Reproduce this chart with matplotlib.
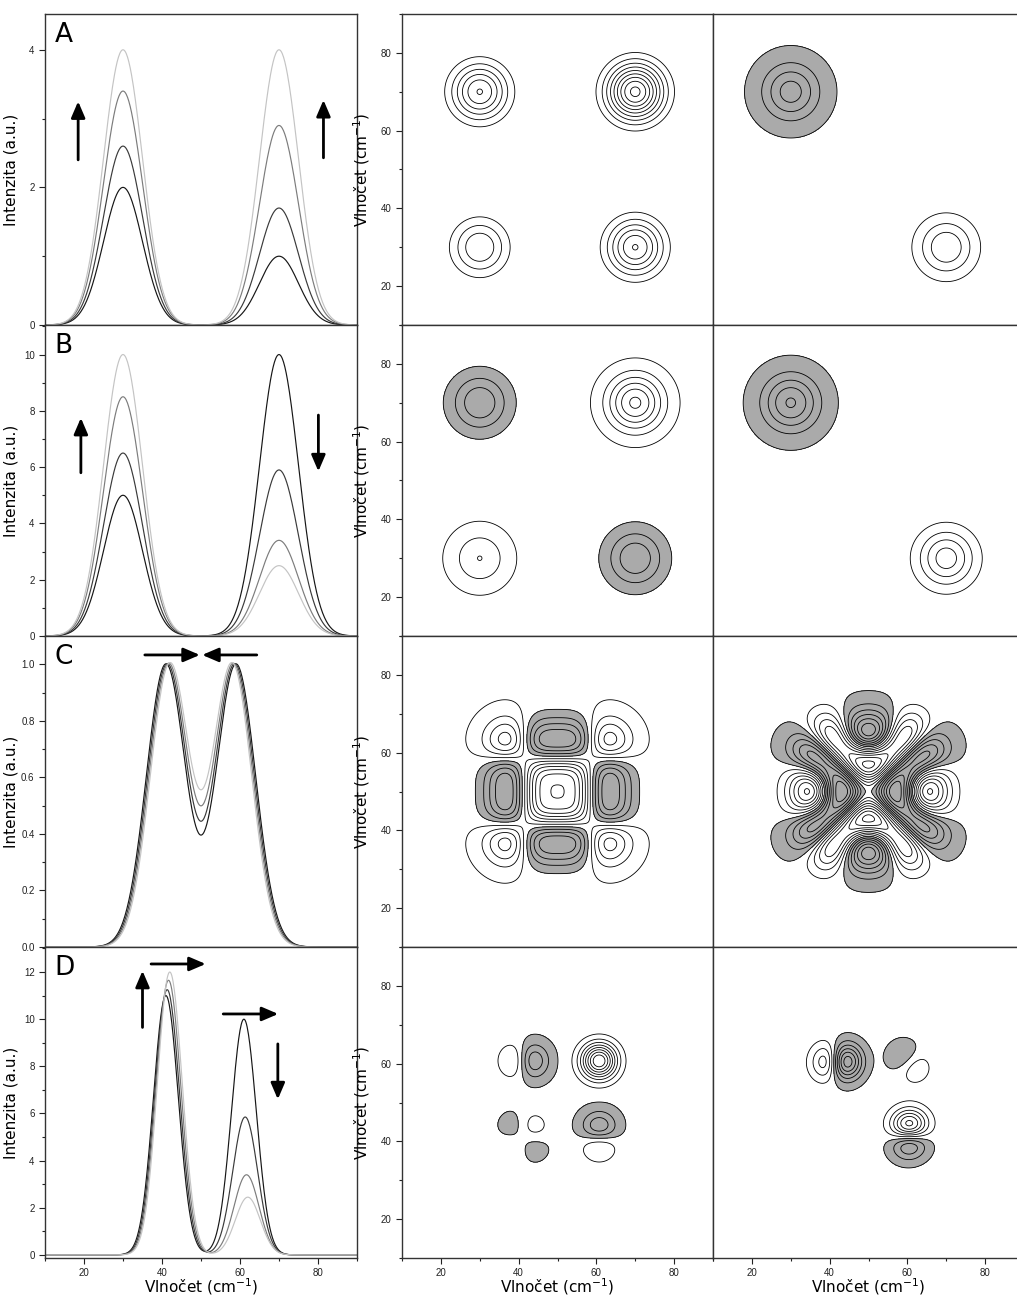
import numpy as np
import matplotlib
matplotlib.use("Agg")
import matplotlib.pyplot as plt
from matplotlib.ticker import MultipleLocator

# --- band parameters, four spectra (perturbation steps) per case ---
wn = np.linspace(10, 90, 481)

A_centers1 = [30.0, 30.0, 30.0, 30.0]
A_heights1 = [2.0, 2.6, 3.4, 4.0]
A_centers2 = [70.0, 70.0, 70.0, 70.0]
A_heights2 = [1.0, 1.7, 2.9, 4.0]
A_width = 5.0

B_centers1 = [30.0, 30.0, 30.0, 30.0]
B_heights1 = [5.0, 6.5, 8.5, 10.0]
B_centers2 = [70.0, 70.0, 70.0, 70.0]
B_heights2 = [10.0, 5.9, 3.4, 2.5]
B_width = 5.0

C_centers1 = [41.0, 41.33, 41.67, 42.0]
C_heights1 = [1.0, 1.0, 1.0, 1.0]
C_centers2 = [59.0, 58.67, 58.33, 58.0]
C_heights2 = [1.0, 1.0, 1.0, 1.0]
C_width = 5.0

D_centers1 = [41.0, 41.33, 41.67, 42.0]
D_heights1 = [11.0, 11.25, 11.65, 12.0]
D_centers2 = [61.0, 61.33, 61.67, 62.0]
D_heights2 = [10.0, 5.85, 3.4, 2.45]
D_width = 3.2

line_colors = ["#161616", "#3a3a3a", "#7c7c7c", "#c4c4c4"]
fill_gray = "#aaaaaa"

# contour spacing per map: (step, offset, cutoff) as fractions of max |value|
levels_sync = {"A": (0.105, 0.025, 0.05), "B": (0.178, 0.07, 0.0),
               "C": (0.16, 0.03, 0.0), "D": (0.115, -0.03, 0.0)}
levels_async = {"A": (0.268, -0.059, 0.0), "B": (0.23, -0.05, 0.0),
                "C": (0.14, -0.03, 0.0), "D": (0.17, -0.06, 0.0)}


def gauss(x, c, h, w):
    return h * np.exp(-(x - c) ** 2 / (2 * w ** 2))


def build_spectra(c1, h1, c2, h2, w):
    return np.array([gauss(wn, a, b, w) + gauss(wn, c, d, w)
                     for a, b, c, d in zip(c1, h1, c2, h2)])


def corr2d(spectra):
    """Generalized 2D correlation (Noda): synchronous and asynchronous maps."""
    m = len(spectra)
    dyn = spectra - spectra.mean(axis=0)
    j, k = np.indices((m, m))
    diff = np.where(j == k, 1, k - j)
    hn = np.where(j == k, 0.0, 1.0 / (np.pi * diff))
    sync = dyn.T @ dyn / (m - 1)
    asyn = dyn.T @ hn @ dyn / (m - 1)
    return sync, asyn


def draw_map(ax, z, step, offset, cutoff):
    zmax = np.abs(z).max()
    lv = (offset + step * np.arange(-30, 31)) * zmax
    lv = lv[(np.abs(lv) > max(cutoff, 1e-9) * zmax) & (lv > z.min()) & (lv < z.max())]
    neg = lv[lv < 0]
    if len(neg):
        ax.contourf(wn, wn, z, levels=[z.min() - 1, neg.max()], colors=[fill_gray])
    ax.contour(wn, wn, z, levels=lv, colors="black", linewidths=0.6,
               linestyles="solid")


cases = [
    ("A", build_spectra(A_centers1, A_heights1, A_centers2, A_heights2, A_width)),
    ("B", build_spectra(B_centers1, B_heights1, B_centers2, B_heights2, B_width)),
    ("C", build_spectra(C_centers1, C_heights1, C_centers2, C_heights2, C_width)),
    ("D", build_spectra(D_centers1, D_heights1, D_centers2, D_heights2, D_width)),
]

ylims = {"A": (0, 4.52), "B": (0, 11.05), "C": (0, 1.10), "D": (-0.13, 13.06)}
ymajor = {"A": 2, "B": 2, "C": 0.2, "D": 2}
yminor = {"A": 1, "B": 1, "C": 0.1, "D": 1}
arrows = {
    "A": [((18.5, 2.4), (18.5, 3.25)), ((81.4, 2.43), (81.4, 3.27))],
    "B": [((19.2, 5.8), (19.2, 7.75)), ((80.1, 7.85), (80.1, 5.85))],
    "C": [((35.6, 1.033), (49.7, 1.033)), ((64.3, 1.033), (50.3, 1.033))],
    "D": [((35.0, 9.65), (35.0, 12.05)), ((37.2, 12.34), (51.2, 12.34)),
          ((55.7, 10.22), (69.8, 10.22)), ((69.7, 8.95), (69.7, 6.6))],
}

W, H = 1017, 1295
fig = plt.figure(figsize=(W / 100, H / 100), dpi=100)
plt.rcParams["font.family"] = ["DejaVu Sans"]
tick_font = {"family": "Liberation Sans", "size": 7}

col_x = [45, 402, 713]
col_w = [312, 311, 311]
row_top = [14, 325, 636, 947]
row_h = 311
spine_color = "#333333"

for r, (name, spectra) in enumerate(cases):
    bottom = 1 - (row_top[r] + row_h) / H
    axes = [fig.add_axes([col_x[c] / W, bottom, col_w[c] / W, row_h / H]) for c in range(3)]
    last = r == len(cases) - 1

    # spectra
    ax = axes[0]
    for spec, color in zip(spectra, line_colors):
        ax.plot(wn, spec, color=color, lw=0.85)
    ax.set_xlim(10, 90)
    ax.set_ylim(*ylims[name])
    ax.yaxis.set_major_locator(MultipleLocator(ymajor[name]))
    ax.yaxis.set_minor_locator(MultipleLocator(yminor[name]))
    if name == "C":
        ax.yaxis.set_major_formatter(lambda v, p: f"{v:.1f}")
    ax.set_ylabel("Intenzita (a.u.)", fontsize=11)
    ax.yaxis.set_label_coords(-0.085, 0.5)
    ax.text(0.03, 0.975, name, transform=ax.transAxes, fontsize=19, va="top", ha="left")
    for tail, head in arrows[name]:
        ax.annotate("", xy=head, xytext=tail,
                    arrowprops=dict(arrowstyle="-|>,head_length=0.7,head_width=0.3",
                                    lw=2, color="black", mutation_scale=14, shrinkA=0, shrinkB=0))

    # 2D correlation maps
    sync, asyn = corr2d(spectra)
    draw_map(axes[1], sync, *levels_sync[name])
    draw_map(axes[2], asyn, *levels_async[name])
    for ax in axes[1:]:
        ax.set_xlim(10, 90)
        ax.set_ylim(10, 90)
        ax.yaxis.set_major_locator(MultipleLocator(20))
        ax.yaxis.set_minor_locator(MultipleLocator(10))
    axes[1].set_ylabel("Vlnočet (cm$^{-1}$)", fontsize=11)
    axes[1].yaxis.set_label_coords(-0.096, 0.5)
    axes[2].tick_params(axis="y", which="both", left=False, labelleft=False)
    axes[2].spines["right"].set_visible(False)

    for ax in axes:
        ax.xaxis.set_major_locator(MultipleLocator(20))
        ax.xaxis.set_minor_locator(MultipleLocator(10))
        for sp in ax.spines.values():
            sp.set_color(spine_color)
            sp.set_linewidth(1.0)
        ax.tick_params(which="both", direction="out", colors="#222222", width=0.8)
        ax.tick_params(which="major", length=4)
        ax.tick_params(which="minor", length=2.5)
        for lab in ax.get_xticklabels() + ax.get_yticklabels():
            lab.set_fontfamily(tick_font["family"])
            lab.set_fontsize(tick_font["size"])
        if last:
            ax.set_xlabel("Vlnočet (cm$^{-1}$)", fontsize=11)
            ax.xaxis.set_label_coords(0.5, -0.06)
        else:
            ax.tick_params(axis="x", which="both", bottom=False, labelbottom=False)

fig.savefig("out.png", dpi=100)
